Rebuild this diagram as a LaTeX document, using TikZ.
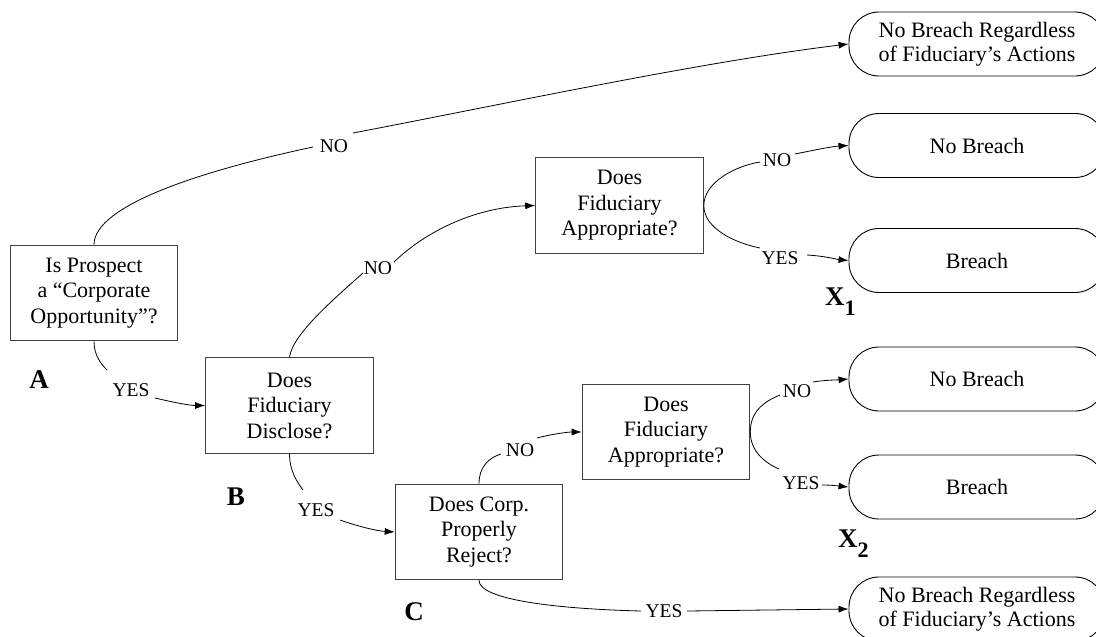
\documentclass[tikz,border=0pt]{standalone}
\usepackage{fontspec}
\setmainfont{Liberation Serif}
\usetikzlibrary{arrows.meta,calc}
\begin{document}
\begin{tikzpicture}[x=1pt,y=-1pt,
  qbox/.style={draw=black!75, line width=1.1pt, minimum width=167.5pt, minimum height=95.5pt, align=center, font=\fontsize{22}{25.5}\selectfont, inner sep=0pt},
  term/.style={draw=black, line width=0.9pt, rounded corners=30pt, minimum width=256pt, minimum height=64pt, align=center, font=\fontsize{22}{24}\selectfont, inner sep=0pt},
  lab/.style={font=\fontsize{19.5}{22}\selectfont, inner sep=0pt},
  tag/.style={font=\fontsize{27}{30}\selectfont\bfseries, inner sep=0pt},
  conn/.style={line width=0.8pt},
  arr/.style={conn, -{Latex[length=10pt,width=7pt]}}]
\useasboundingbox (0,0) rectangle (1096,637);
\clip (0,0) rectangle (1096,637);
\fill[white] (0,0) rectangle (1096,637);

% question boxes
\node[qbox] (A) at (94,293) {Is Prospect\\a “Corporate\\Opportunity”?};
\node[qbox] (B) at (289.5,405.5) {Does\\Fiduciary\\Disclose?};
\node[qbox] (D1) at (619.5,205.5) {Does\\Fiduciary\\Appropriate?};
\node[qbox] (C) at (479,532) {Does Corp.\\Properly\\Reject?};
\node[qbox] (D2) at (666,432) {Does\\Fiduciary\\Appropriate?};

% terminals
\node[term] (T1) at (977,44) {No Breach Regardless\\of Fiduciary’s Actions};
\node[term] (T2) at (977,145.5) {No Breach};
\node[term] (T3) at (977,260.5) {Breach};
\node[term] (T4) at (977,379) {No Breach};
\node[term] (T5) at (977,487) {Breach};
\node[term] (T6) at (977,609) {No Breach Regardless\\of Fiduciary’s Actions};

% edge labels
\node[lab] (l1) at (334,146) {NO};
\node[lab] (l2) at (131,390) {YES};
\node[lab] (l3) at (378,268) {NO};
\node[lab] (l4) at (316,510) {YES};
\node[lab] (l5) at (777,160) {NO};
\node[lab] (l6) at (780,258) {YES};
\node[lab] (l7) at (520,450) {NO};
\node[lab] (l8) at (664,611) {YES};
\node[lab] (l9) at (797,391) {NO};
\node[lab] (l10) at (801,483) {YES};

% connectors
\draw[conn] (A.north) .. controls +(0,-40) and +(-108,23) .. ($(l1)+(-21,1)$);
\draw[arr] ($(l1)+(19,-13)$) .. controls +(147,-28) and +(-149,18) .. (T1.west);

\draw[conn] (A.south) .. controls +(0,14) and +(-6,-6) .. ($(l2)+(-24,-20)$);
\draw[arr] ($(l2)+(24,8)$) .. controls +(17,4) and +(-16,0) .. (B.west);

\draw[conn] (B.north) .. controls +(3,-23) and +(-28,25) .. ($(l3)+(-15,5)$);
\draw[arr] ($(l3)+(16,-6)$) .. controls +(31,-30) and +(-61,2) .. (D1.west);

\draw[conn] (B.south) .. controls +(0,17) and +(-6,-8) .. ($(l4)+(-13,-20)$);
\draw[arr] ($(l4)+(24,10)$) .. controls +(20,7) and +(-17,-1) .. (C.west);

\draw[conn] (D1.east) .. controls +(0,-23) and +(-25,4) .. ($(l5)+(-17,2)$);
\draw[arr] ($(l5)+(18,-6)$) .. controls +(20,-4) and +(-17,1) .. (T2.west);

\draw[conn] (D1.east) .. controls +(0,23) and +(-25,-5) .. ($(l6)+(-20,-10)$);
\draw[arr] ($(l6)+(27,-3)$) .. controls +(18,1) and +(-11,-1) .. (T3.west);

\draw[conn] (C.north) .. controls +(0,-16) and +(-13,4) .. ($(l7)+(-19,4)$);
\draw[arr] ($(l7)+(17,-12)$) .. controls +(15,-4) and +(-14,0) .. (D2.west);

\draw[conn] (C.south) .. controls +(0,20) and +(-81,-2) .. ($(l8)+(-23,0)$);
\draw[arr] ($(l8)+(23,0)$) -- (T6.west);

\draw[conn] (D2.east) .. controls +(0,-20) and +(-17,7) .. ($(l9)+(-17,4)$);
\draw[arr] ($(l9)+(16,-9)$) .. controls +(12,-2) and +(-12,1) .. (T4.west);

\draw[conn] (D2.east) .. controls +(0,18) and +(-16,-7) .. ($(l10)+(-22,-14)$);
\draw[arr] ($(l10)+(21,2)$) .. controls +(10,0) and +(-10,-1) .. (T5.west);

% tags
\node[tag, anchor=base] (tA) at (39,388) {A};
\node[tag, anchor=base] (tB) at (236,505) {B};
\node[tag, anchor=base] (tC) at (414,620) {C};
\node[tag, anchor=base west] (tX1) at (825,305) {X\raisebox{-10pt}{\fontsize{22}{22}\selectfont 1}};
\node[tag, anchor=base west] (tX2) at (838,547) {X\raisebox{-10pt}{\fontsize{22}{22}\selectfont 2}};
\end{tikzpicture}
\end{document}
